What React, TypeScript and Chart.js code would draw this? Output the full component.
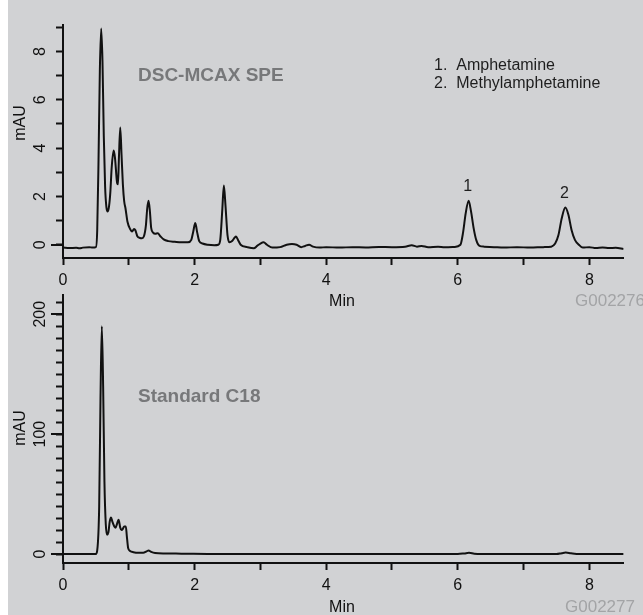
import React, { useEffect, useRef } from 'react';
import { Chart, registerables } from 'chart.js';

Chart.register(...registerables);

// ---------- data ----------
// DSC-MCAX SPE trace (time in min, absorbance in mAU)
const topTimes = [
  0.0, 0.1, 0.2, 0.25, 0.3, 0.4, 0.45, 0.5, 0.52, 0.54, 0.56, 0.58, 0.6, 0.62, 0.64, 0.66, 0.68,
  0.7, 0.72, 0.74, 0.77, 0.79, 0.82, 0.835, 0.85, 0.87, 0.89, 0.91, 0.93, 0.95, 0.98, 1.02, 1.05,
  1.08, 1.1, 1.13, 1.17, 1.2, 1.23, 1.26, 1.28, 1.3, 1.32, 1.34, 1.37, 1.4, 1.44, 1.48, 1.53, 1.6,
  1.7, 1.8, 1.9, 1.95, 1.98, 2.01, 2.04, 2.07, 2.12, 2.2, 2.3, 2.36, 2.39, 2.42, 2.445, 2.47, 2.5,
  2.53, 2.57, 2.61, 2.63, 2.66, 2.7, 2.8, 2.9, 2.95, 3.0, 3.05, 3.1, 3.18, 3.3, 3.4, 3.48, 3.55,
  3.62, 3.68, 3.74, 3.8, 3.9, 4.0, 4.2, 4.4, 4.6, 4.8, 5.0, 5.2, 5.3, 5.38, 5.45, 5.55, 5.7, 5.8,
  5.95, 6.04, 6.08, 6.12, 6.165, 6.2, 6.24, 6.28, 6.33, 6.4, 6.55, 6.7, 6.9, 7.1, 7.3, 7.42, 7.48,
  7.53, 7.58, 7.635, 7.68, 7.73, 7.78, 7.84, 7.9, 8.0, 8.1, 8.2, 8.3, 8.4, 8.52,
];
const topValues = [
  -0.12, -0.14, -0.13, -0.15, -0.12, -0.1, -0.12, -0.1, 0.6, 3.5, 7.2, 8.95, 7.6, 4.5, 2.4, 1.55, 1.38,
  1.6, 2.2, 3.2, 3.9, 3.6, 2.6, 2.5, 3.6, 4.85, 3.7, 2.5, 1.8, 1.5, 0.95, 0.65, 0.55,
  0.65, 0.6, 0.35, 0.28, 0.27, 0.35, 0.8, 1.5, 1.82, 1.4, 0.7, 0.5, 0.45, 0.48, 0.35, 0.22, 0.15,
  0.12, 0.1, 0.1, 0.2, 0.55, 0.9, 0.5, 0.15, 0.05, 0.0, -0.02, 0.0, 0.2, 1.4, 2.45, 1.6, 0.4,
  0.1, 0.15, 0.3, 0.34, 0.2, 0.0, -0.1, -0.15, -0.05, 0.05, 0.1, 0.0, -0.12, -0.1, 0.0, 0.03, 0.0,
  -0.1, -0.05, 0.0, -0.08, -0.12, -0.1, -0.12, -0.1, -0.11, -0.09, -0.1, -0.08, -0.02, -0.08, -0.05, -0.1, -0.08, -0.1,
  -0.09, 0.0, 0.5, 1.3, 1.82, 1.4, 0.7, 0.2, -0.05, -0.08, -0.1, -0.12, -0.1, -0.12, -0.1, -0.08, 0.05,
  0.4, 1.1, 1.54, 1.25, 0.6, 0.2, 0.0, -0.12, -0.1, -0.14, -0.12, -0.14, -0.13, -0.18,
];

// Standard C18 trace
const bottomTimes = [
  0.0, 0.3, 0.5, 0.52, 0.55, 0.57, 0.59, 0.61, 0.63, 0.65, 0.67, 0.69, 0.71, 0.73, 0.75, 0.78, 0.8,
  0.82, 0.845, 0.87, 0.89, 0.91, 0.93, 0.955, 0.97, 0.99, 1.02, 1.07, 1.15, 1.22, 1.27, 1.3, 1.34,
  1.4, 1.55, 1.8, 2.2, 3.0, 4.0, 5.0, 6.0, 6.1, 6.17, 6.25, 6.35, 7.5, 7.58, 7.64, 7.72, 7.85, 8.52,
];
const bottomValues = [
  0, 0, 0, 3, 40, 130, 190, 140, 60, 25, 16, 18, 27, 30.5, 27, 23, 22,
  25, 28.5, 22, 20, 21, 23, 23, 15, 5, 2.5, 1.5, 1.0, 1.0, 2.2, 3, 1.8,
  0.8, 0.4, 0.3, 0.1, 0, 0, 0, 0, 0.5, 1.0, 0.3, 0, 0, 0.7, 1.2, 0.6, 0, 0,
];

const xTickValues = [0, 1, 2, 3, 4, 5, 6, 7, 8];
const xTickLabels = [0, 2, 4, 6, 8];
const topYTicks = [0, 1, 2, 3, 4, 5, 6, 7, 8, 9];
const topYLabels = [0, 2, 4, 6, 8];
const topLongTicks = [0];
const bottomYTicks = [0, 10, 20, 30, 40, 50, 60, 70, 80, 90, 100, 110, 120, 130, 140, 150, 160, 170, 180, 190, 200, 210];
const bottomYLabels = [0, 100, 200];
const bottomLongTicks = [0, 100, 200];

const compounds = ['Amphetamine', 'Methylamphetamine'];
const peakTimes = [6.165, 7.635];
const peakHeights = [1.82, 1.54];

const FONT = "'Liberation Sans', Arial, Helvetica, sans-serif";
const BG = '#d1d2d4';
const INK = '#111111';

type PanelCfg = {
  canvasTop: number;
  canvasHeight: number;
  padTop: number;
  xHeight: number;
  yMin: number;
  yMax: number;
  yTicks: number[];
  yLabels: number[];
  longTicks: number[];
  times: number[];
  values: number[];
  mauY: number;
  title: string;
  titleY: number;
  minY: number;
  code: string;
  codeY: number;
  codeX: number;
  showLegend: boolean;
};

function makePlugin(cfg: PanelCfg) {
  return {
    id: 'panelDecor',
    afterDraw(chart: any) {
      const ctx = chart.ctx as CanvasRenderingContext2D;
      const ys = chart.scales.y;
      const xs = chart.scales.x;
      const area = chart.chartArea;
      const off = cfg.canvasTop;
      ctx.save();
      // long ticks
      ctx.strokeStyle = INK;
      ctx.lineWidth = 2;
      cfg.longTicks.forEach((v) => {
        const py = Math.round(ys.getPixelForValue(v));
        ctx.beginPath();
        ctx.moveTo(area.left - 12, py);
        ctx.lineTo(area.left, py);
        ctx.stroke();
      });
      // rotated y tick labels
      ctx.fillStyle = INK;
      ctx.font = `16px ${FONT}`;
      ctx.textAlign = 'center';
      ctx.textBaseline = 'middle';
      cfg.yLabels.forEach((v) => {
        const py = ys.getPixelForValue(v);
        ctx.save();
        ctx.translate(41, py);
        ctx.rotate(-Math.PI / 2);
        ctx.fillText(String(v), 0, 0);
        ctx.restore();
      });
      // y title
      ctx.save();
      ctx.translate(21, cfg.mauY - off);
      ctx.rotate(-Math.PI / 2);
      ctx.fillText('mAU', 0, 0);
      ctx.restore();
      // x title
      ctx.textBaseline = 'alphabetic';
      ctx.fillText('Min', 342, cfg.minY - off);
      // code
      ctx.fillStyle = '#a3a4a6';
      ctx.font = `17px ${FONT}`;
      ctx.textAlign = 'left';
      ctx.fillText(cfg.code, cfg.codeX, cfg.codeY - off);
      // panel title
      ctx.fillStyle = '#77787a';
      ctx.font = `bold 19px ${FONT}`;
      ctx.fillText(cfg.title, 138, cfg.titleY - off);
      if (cfg.showLegend) {
        ctx.fillStyle = '#1e1e1e';
        ctx.font = `16px ${FONT}`;
        compounds.forEach((name, i) => {
          ctx.fillText(`${i + 1}.  ${name}`, 434, 70 + i * 18 - off);
        });
        ctx.textAlign = 'center';
        peakTimes.forEach((t, i) => {
          const px = xs.getPixelForValue(t) - 1;
          const py = ys.getPixelForValue(peakHeights[i]) - 10;
          ctx.fillText(String(i + 1), px, py);
        });
      }
      ctx.restore();
    },
  };
}

function Panel({ cfg }: { cfg: PanelCfg }) {
  const ref = useRef<HTMLCanvasElement | null>(null);
  useEffect(() => {
    if (!ref.current) return;
    const points = cfg.times.map((t, i) => ({ x: t, y: cfg.values[i] }));
    const chart = new Chart(ref.current, {
      type: 'line',
      data: {
        datasets: [
          {
            data: points,
            borderColor: INK,
            borderWidth: 2,
            pointRadius: 0,
            cubicInterpolationMode: 'monotone',
            fill: false,
          },
        ],
      },
      options: {
        animation: false,
        responsive: false,
        maintainAspectRatio: false,
        devicePixelRatio: 1,
        layout: { padding: { left: 0, right: 19.4, top: cfg.padTop, bottom: 0 } },
        plugins: { legend: { display: false }, tooltip: { enabled: false }, title: { display: false } },
        scales: {
          x: {
            type: 'linear',
            min: 0,
            max: 8.52,
            afterBuildTicks: (s: any) => {
              s.ticks = xTickValues.map((v) => ({ value: v }));
            },
            afterFit: (s: any) => {
              s.height = cfg.xHeight;
            },
            grid: { drawOnChartArea: false, drawTicks: true, tickLength: 7, tickColor: INK, tickWidth: 2 },
            border: { display: true, color: INK, width: 2 },
            ticks: {
              autoSkip: false,
              maxRotation: 0,
              minRotation: 0,
              padding: 6,
              color: INK,
              font: { family: FONT, size: 16 },
              callback: (v: any) => (xTickLabels.includes(Number(v)) ? String(v) : ''),
            },
          },
          y: {
            type: 'linear',
            min: cfg.yMin,
            max: cfg.yMax,
            afterBuildTicks: (s: any) => {
              s.ticks = cfg.yTicks.map((v) => ({ value: v }));
            },
            afterFit: (s: any) => {
              s.width = 63;
            },
            grid: { drawOnChartArea: false, drawTicks: true, tickLength: 7, tickColor: INK, tickWidth: 2 },
            border: { display: true, color: INK, width: 2 },
            ticks: { display: false },
          },
        },
      },
      plugins: [makePlugin(cfg)],
    } as any);
    return () => chart.destroy();
  }, [cfg]);
  return (
    <canvas
      ref={ref}
      width={643}
      height={cfg.canvasHeight}
      style={{ position: 'absolute', left: 0, top: cfg.canvasTop, width: 643, height: cfg.canvasHeight }}
    />
  );
}

const topCfg: PanelCfg = {
  canvasTop: 0,
  canvasHeight: 312,
  padTop: 25,
  xHeight: 54,
  yMin: -0.55,
  yMax: 9.1,
  yTicks: topYTicks,
  yLabels: topYLabels,
  longTicks: topLongTicks,
  times: topTimes,
  values: topValues,
  mauY: 123,
  title: 'DSC-MCAX SPE',
  titleY: 81,
  minY: 306,
  code: 'G002276',
  codeY: 306,
  codeX: 575,
  showLegend: true,
};

const bottomCfg: PanelCfg = {
  canvasTop: 285,
  canvasHeight: 330,
  padTop: 10,
  xHeight: 52,
  yMin: -7.5,
  yMax: 216,
  yTicks: bottomYTicks,
  yLabels: bottomYLabels,
  longTicks: bottomLongTicks,
  times: bottomTimes,
  values: bottomValues,
  mauY: 428,
  title: 'Standard C18',
  titleY: 402,
  minY: 612,
  code: 'G002277',
  codeY: 612,
  codeX: 565,
  showLegend: false,
};

export default function App() {
  return (
    <div
      style={{
        position: 'absolute',
        left: 0,
        top: 0,
        width: 643,
        height: 615,
        background: '#ffffff',
        overflow: 'hidden',
      }}
    >
      <div style={{ position: 'absolute', left: 8, top: 0, width: 635, height: 615, background: BG }} />
      <Panel cfg={topCfg} />
      <Panel cfg={bottomCfg} />
    </div>
  );
}
